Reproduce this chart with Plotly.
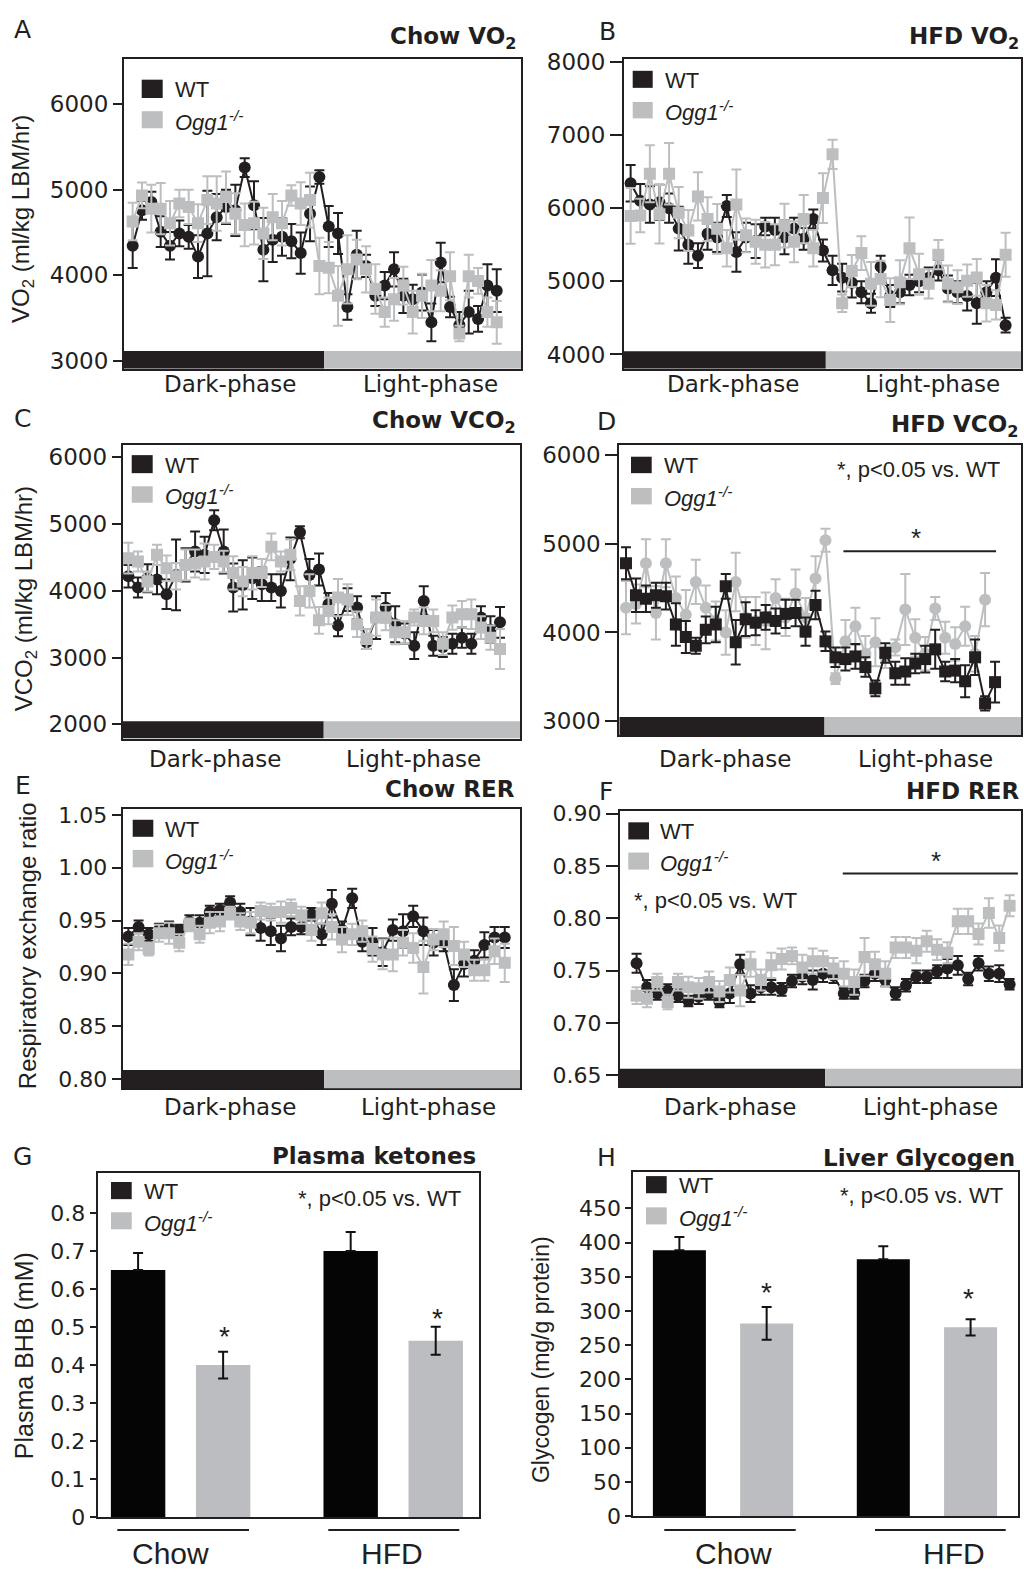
import plotly.graph_objects as go

W, H = 1024, 1582
INK = "#231f20"
WT_C = "#231f20"
KO_C = "#bcbec0"
TICKF = "DejaVu Sans"
SANS = "Liberation Sans, Arial, sans-serif"
BOLD = "DejaVu Sans"

# ---------------- data ----------------
A_WT = [4346, 4760, 4858, 4510, 4346, 4490, 4450, 4220, 4490, 4680, 4800, 4760, 5260, 4820, 4300, 4415, 4450, 4400, 4260, 4720,
        5150, 4570, 4490, 3630, 4240, 4110, 3760, 3880, 4070, 3760, 3720, 3800, 3450, 4150, 3630, 3420, 3570, 3490, 3880, 3820]
A_WT_ERR = [260, 110, 120, 180, 160, 150, 140, 250, 500, 270, 200, 300, 110, 280, 370, 260, 220, 200, 240, 320,
            80, 240, 240, 150, 280, 130, 120, 160, 200, 200, 170, 210, 220, 230, 120, 150, 250, 150, 250, 250]
A_KO = [4630, 4935, 4780, 4780, 4610, 4840, 4800, 4610, 4880, 4840, 4915, 4720, 4590, 4610, 4490, 4680, 4610, 4935, 4840, 4880,
        4110, 4090, 3760, 4070, 4185, 4070, 3840, 3570, 3720, 3880, 3570, 3760, 3880, 3820, 3990, 3320, 3990, 3935, 3570, 3450]
A_KO_ERR = [220, 150, 280, 300, 260, 160, 200, 220, 280, 320, 300, 240, 250, 250, 300, 270, 260, 120, 250, 320,
            330, 300, 350, 400, 230, 270, 290, 170, 250, 220, 250, 260, 300, 240, 280, 90, 250, 150, 170, 250]

B_WT = [6340, 6100, 6050, 6080, 6000, 5720, 5500, 5350, 5650, 5600, 6030, 5400, 5600, 5550, 5750, 5700, 5600, 5720, 5580, 5850,
        5420, 5150, 5050, 4980, 4850, 4700, 5200, 4800, 4850, 4950, 5000, 5050, 5150, 4900, 4850, 4800, 4700, 4850, 5050, 4400]
B_WT_ERR = [250, 230, 250, 240, 200, 300, 260, 170, 220, 200, 150, 270, 200, 230, 120, 170, 230, 150, 150, 130,
            150, 200, 190, 200, 150, 130, 150, 150, 150, 140, 150, 140, 140, 180, 150, 200, 280, 150, 250, 100]
B_KO = [5894, 5900, 6470, 5916, 6470, 5938, 5695, 6160, 5850, 5717, 5451, 6049, 5628, 5540, 5500, 5500, 5761, 5540, 5850, 5451,
        6137, 6735, 4700, 5141, 5385, 4965, 5031, 4743, 4987, 5451, 5097, 4965, 5363, 4965, 4920, 5009, 5053, 4700, 4677, 5363]
B_KO_ERR = [380, 230, 390, 400, 420, 350, 280, 330, 300, 340, 250, 480, 230, 300, 310, 280, 300, 280, 330, 250,
            340, 200, 120, 220, 230, 300, 250, 300, 300, 420, 280, 200, 200, 250, 230, 220, 250, 250, 200, 300]

C_WT = [4220, 4050, 4190, 4170, 3950, 4240, 4390, 4590, 4540, 5060, 4590, 4050, 4090, 4190, 4100, 4050, 4000, 4480, 4880, 4240,
        4320, 3800, 3480, 3870, 3750, 3230, 3600, 3750, 3500, 3360, 3180, 3850, 3180, 3160, 3210, 3300, 3210, 3600, 3420, 3530]
C_WT_ERR = [170, 150, 210, 220, 220, 530, 250, 300, 270, 150, 330, 360, 370, 310, 250, 200, 250, 320, 90, 240,
            240, 170, 160, 170, 170, 100, 320, 220, 270, 150, 200, 220, 150, 150, 150, 150, 150, 170, 200, 230]
C_KO = [4490, 4440, 4140, 4540, 4340, 4220, 4390, 4410, 4440, 4510, 4440, 4270, 4140, 4270, 4270, 4660, 4440, 4540, 3850, 4000,
        3560, 3700, 3900, 3870, 3500, 3280, 3600, 3600, 3380, 3380, 3600, 3550, 3550, 3210, 3600, 3650, 3650, 3450, 3300, 3130]
C_KO_ERR = [230, 150, 150, 150, 190, 200, 230, 210, 270, 180, 160, 250, 220, 250, 210, 200, 150, 230, 220, 250,
            200, 200, 280, 230, 190, 150, 270, 190, 180, 170, 120, 200, 170, 170, 180, 200, 220, 170, 180, 300]

D_WT = [4780, 4420, 4380, 4420, 4410, 4090, 3950, 3850, 4030, 4090, 4520, 3890, 4150, 4110, 4170, 4130, 4210, 4220, 4010, 4310,
        3900, 3720, 3700, 3730, 3610, 3370, 3770, 3540, 3560, 3650, 3700, 3810, 3560, 3570, 3450, 3720, 3200, 3440]
D_WT_ERR = [180, 190, 150, 140, 150, 240, 180, 90, 150, 200, 140, 250, 190, 140, 140, 140, 160, 150, 160, 160,
            110, 110, 130, 140, 110, 90, 110, 130, 150, 110, 150, 220, 110, 130, 180, 200, 80, 230]
D_KO = [4280, 4320, 4780, 4220, 4780, 4390, 4200, 4570, 4280, 4130, 4000, 4570, 4170, 4130, 4130, 4390, 4170, 4440, 4170, 4610,
        5040, 3480, 3900, 4070, 3760, 3890, 3720, 3830, 4260, 3940, 3760, 4270, 3940, 3870, 4070, 3760, 4370]
D_KO_ERR = [300, 220, 270, 300, 270, 240, 280, 250, 250, 220, 250, 330, 230, 270, 320, 210, 210, 270, 220, 250,
            130, 60, 240, 210, 200, 270, 120, 90, 400, 210, 190, 130, 180, 190, 220, 200, 300]

E_WT = [0.935, 0.944, 0.937, 0.941, 0.943, 0.941, 0.949, 0.948, 0.958, 0.960, 0.967, 0.958, 0.949, 0.943, 0.940, 0.933, 0.944, 0.944, 0.956, 0.937,
        0.966, 0.941, 0.971, 0.930, 0.930, 0.920, 0.941, 0.940, 0.954, 0.940, 0.929, 0.929, 0.889, 0.909, 0.912, 0.927, 0.934, 0.934]
E_WT_ERR = [0.008, 0.006, 0.006, 0.006, 0.006, 0.005, 0.006, 0.007, 0.006, 0.006, 0.006, 0.008, 0.013, 0.012, 0.013, 0.012, 0.008, 0.007, 0.006, 0.010,
            0.013, 0.008, 0.009, 0.009, 0.013, 0.013, 0.010, 0.016, 0.010, 0.013, 0.012, 0.008, 0.015, 0.012, 0.010, 0.012, 0.010, 0.010]
E_KO = [0.918, 0.930, 0.923, 0.938, 0.938, 0.929, 0.946, 0.937, 0.948, 0.949, 0.957, 0.949, 0.948, 0.959, 0.958, 0.958, 0.962, 0.955, 0.941, 0.957,
        0.944, 0.932, 0.937, 0.940, 0.923, 0.918, 0.918, 0.929, 0.924, 0.906, 0.932, 0.937, 0.926, 0.918, 0.903, 0.903, 0.921, 0.910]
E_KO_ERR = [0.010, 0.008, 0.006, 0.008, 0.010, 0.008, 0.006, 0.008, 0.010, 0.009, 0.006, 0.008, 0.010, 0.008, 0.008, 0.010, 0.008, 0.008, 0.010, 0.010,
            0.012, 0.012, 0.010, 0.010, 0.012, 0.014, 0.016, 0.012, 0.014, 0.025, 0.010, 0.012, 0.018, 0.012, 0.010, 0.010, 0.012, 0.018]

F_WT = [0.757, 0.734, 0.728, 0.731, 0.726, 0.721, 0.725, 0.728, 0.720, 0.728, 0.756, 0.728, 0.734, 0.734, 0.732, 0.740, 0.744, 0.741, 0.747, 0.745,
        0.728, 0.728, 0.740, 0.747, 0.741, 0.728, 0.736, 0.744, 0.744, 0.749, 0.752, 0.755, 0.742, 0.757, 0.747, 0.747, 0.737]
F_WT_ERR = [0.009, 0.007, 0.006, 0.006, 0.006, 0.005, 0.007, 0.006, 0.005, 0.009, 0.009, 0.008, 0.007, 0.007, 0.006, 0.006, 0.007, 0.009, 0.008, 0.007,
            0.005, 0.005, 0.006, 0.007, 0.006, 0.006, 0.006, 0.006, 0.006, 0.006, 0.009, 0.009, 0.006, 0.007, 0.007, 0.008, 0.005]
F_KO = [0.726, 0.723, 0.739, 0.720, 0.739, 0.734, 0.733, 0.739, 0.730, 0.741, 0.731, 0.756, 0.741, 0.755, 0.761, 0.764, 0.753, 0.759, 0.759, 0.752,
        0.747, 0.739, 0.763, 0.756, 0.747, 0.772, 0.772, 0.769, 0.778, 0.770, 0.767, 0.797, 0.797, 0.785, 0.805, 0.781, 0.812]
F_KO_ERR = [0.008, 0.008, 0.008, 0.007, 0.008, 0.010, 0.010, 0.010, 0.010, 0.012, 0.015, 0.012, 0.010, 0.012, 0.010, 0.008, 0.012, 0.012, 0.010, 0.010,
            0.012, 0.012, 0.018, 0.012, 0.012, 0.010, 0.010, 0.012, 0.010, 0.010, 0.010, 0.012, 0.012, 0.010, 0.014, 0.012, 0.010]

CATS = ["Chow", "HFD"]
G_WT = [0.65, 0.70]
G_WT_ERR = [0.045, 0.05]
G_KO = [0.40, 0.464]
G_KO_ERR = [0.035, 0.037]
H_WT = [388.7, 375.7]
H_WT_ERR = [19.5, 19.0]
H_KO = [281.8, 276.0]
H_KO_ERR = [24.0, 12.0]

A_TICKS = [3000, 4000, 5000, 6000]
B_TICKS = [4000, 5000, 6000, 7000, 8000]
C_TICKS = [2000, 3000, 4000, 5000, 6000]
D_TICKS = [3000, 4000, 5000, 6000]
E_TICKS = [0.80, 0.85, 0.90, 0.95, 1.00, 1.05]
F_TICKS = [0.65, 0.70, 0.75, 0.80, 0.85, 0.90]
G_TICKS = [0, 0.1, 0.2, 0.3, 0.4, 0.5, 0.6, 0.7, 0.8]
G_TICKTEXT = ["0", "0.1", "0.2", "0.3", "0.4", "0.5", "0.6", "0.7", "0.8"]
H_TICKS = [0, 50, 100, 150, 200, 250, 300, 350, 400, 450]

WT_LABEL = "WT"
KO_LABEL = "<i>Ogg1<sup>-/-</sup></i>"
SIG_LABEL = "*, p<0.05 vs. WT"

# ---------------- helpers ----------------
def X(p):
    return p / W


def Y(p):
    return 1 - p / H


def names(n):
    s = "" if n == 1 else str(n)
    return "xaxis" + s, "yaxis" + s, "x" + s, "y" + s


fig = go.Figure()
lay = {}
shapes = []
ann = []


def text(t, x, y, size, fam=SANS, xa="center", ya="middle", angle=0, color=INK):
    ann.append(dict(text=t, x=X(x), y=Y(y), xref="paper", yref="paper", xanchor=xa, yanchor=ya,
                    showarrow=False, textangle=angle, font=dict(size=size, family=fam, color=color)))


def legend(sq, ywt, yko, tx):
    for (y0, y1), c, lab in [(ywt, WT_C, WT_LABEL), (yko, KO_C, KO_LABEL)]:
        shapes.append(dict(type="rect", xref="paper", yref="paper", x0=X(sq[0]), x1=X(sq[1]),
                           y0=Y(y1), y1=Y(y0), fillcolor=c, line=dict(width=0)))
        text(lab, tx, (y0 + y1) / 2 + 1, 22, SANS, xa="left")


time_panels = [
    dict(n=1, wt=A_WT, wte=A_WT_ERR, ko=A_KO, koe=A_KO_ERR, ws="circle", ks="square",
         box=(124, 521, 50, 364), yr=(2908, 6527), xr=(-0.93, 41.6), split=20.5, bar=3115,
         ticks=A_TICKS, tl=9, fmt=None, fs=23, ko_top=True),
    dict(n=2, wt=B_WT, wte=B_WT_ERR, ko=B_KO, koe=B_KO_ERR, ws="circle", ks="square",
         box=(624, 1021, 50, 364), yr=(3805, 8035), xr=(-0.69, 40.6), split=20.3, bar=4044,
         ticks=B_TICKS, tl=12, fmt=None, fs=23, ko_top=True),
    dict(n=3, wt=C_WT, wte=C_WT_ERR, ko=C_KO, koe=C_KO_ERR, ws="circle", ks="square",
         box=(122.7, 520, 441.7, 739.3), yr=(1788, 6182), xr=(-0.6, 41.1), split=20.5, bar=2049,
         ticks=C_TICKS, tl=9, fmt=None, fs=23, ko_top=True),
    dict(n=4, wt=D_WT, wte=D_WT_ERR, ko=D_KO, koe=D_KO_ERR, ws="square", ks="circle",
         box=(619.3, 1021, 441.7, 735.7), yr=(2844, 6111), xr=(-0.67, 39.6), split=19.9, bar=3048,
         ticks=D_TICKS, tl=12, fmt=None, fs=23, ko_top=False),
    dict(n=5, wt=E_WT, wte=E_WT_ERR, ko=E_KO, koe=E_KO_ERR, ws="circle", ks="square",
         box=(122.7, 520, 811, 1094.3), yr=(0.7913, 1.0553), xr=(-0.56, 38.5), split=19.25, bar=0.8087,
         ticks=E_TICKS, tl=9, fmt=".2f", fs=22, ko_top=True),
    dict(n=6, wt=F_WT, wte=F_WT_ERR, ko=F_KO, koe=F_KO_ERR, ws="circle", ks="square",
         box=(620, 1021, 813.3, 1092.3), yr=(0.6393, 0.902), xr=(-1.6, 37.1), split=18.2, bar=0.6563,
         ticks=F_TICKS, tl=12, fmt=".2f", fs=22, ko_top=True),
]


def series(vals, errs, color, sym, xa, ya):
    return go.Scatter(
        x=list(range(len(vals))), y=vals, mode="lines+markers", xaxis=xa, yaxis=ya,
        line=dict(color=color, width=2),
        marker=dict(symbol=sym, size=12 if sym == "circle" else 12, color=color, line=dict(width=0)),
        error_y=dict(type="data", array=errs, color=color, thickness=2, width=5),
        showlegend=False, hoverinfo="skip")


for p in time_panels:
    xk, yk, xa, ya = names(p["n"])
    l, r, t, b = p["box"]
    wt = series(p["wt"], p["wte"], WT_C, p["ws"], xa, ya)
    ko = series(p["ko"], p["koe"], KO_C, p["ks"], xa, ya)
    for tr in ([wt, ko] if p["ko_top"] else [ko, wt]):
        fig.add_trace(tr)
    lay[xk] = dict(domain=[X(l), X(r)], range=list(p["xr"]), anchor=ya, showgrid=False, zeroline=False,
                   showticklabels=False, ticks="", showline=True, mirror=True, linecolor=INK, linewidth=2)
    lay[yk] = dict(domain=[Y(b), Y(t)], range=list(p["yr"]), anchor=xa, showgrid=False, zeroline=False,
                   tickvals=p["ticks"], tickformat=p["fmt"], ticks="outside", ticklen=p["tl"], tickwidth=2,
                   tickcolor=INK, showline=True, mirror=True, linecolor=INK, linewidth=2,
                   tickfont=dict(family=TICKF, size=p["fs"], color=INK))
    shapes.append(dict(type="rect", xref=xa, yref=ya, x0=p["xr"][0], x1=p["split"], y0=p["yr"][0], y1=p["bar"],
                       fillcolor=WT_C, line=dict(width=0), layer="above"))
    shapes.append(dict(type="rect", xref=xa, yref=ya, x0=p["split"], x1=p["xr"][1], y0=p["yr"][0], y1=p["bar"],
                       fillcolor=KO_C, line=dict(width=0), layer="above"))

# significance bars (time-series panels)
SIG_D = dict(x0=21.8, x1=37.1, y=4915, sx=29.1, sy=5130)
SIG_F = dict(x0=19.9, x1=36.8, y=0.8428, sx=28.9, sy=0.860)
for n, s in [(4, SIG_D), (6, SIG_F)]:
    _, _, xa, ya = names(n)
    shapes.append(dict(type="line", xref=xa, yref=ya, x0=s["x0"], x1=s["x1"], y0=s["y"], y1=s["y"],
                       line=dict(color=INK, width=2)))
    ann.append(dict(text="*", x=s["sx"], y=s["sy"], xref=xa, yref=ya, showarrow=False, yshift=-6,
                    font=dict(size=26, family=SANS, color=INK)))

# ---------------- bar panels ----------------
bar_panels = [
    dict(n=7, wt=G_WT, wte=G_WT_ERR, ko=G_KO, koe=G_KO_ERR, box=(97.7, 479.3, 1180, 1529.3),
         yr=(0, 0.906), xr=(-0.39, 1.405), off=0.2, w=0.256, ticks=G_TICKS, tt=G_TICKTEXT),
    dict(n=8, wt=H_WT, wte=H_WT_ERR, ko=H_KO, koe=H_KO_ERR, box=(633.3, 1018.3, 1179.3, 1528.3),
         yr=(0, 503), xr=(-0.44, 1.448), off=0.214, w=0.26, ticks=H_TICKS, tt=None),
]
for p in bar_panels:
    xk, yk, xa, ya = names(p["n"])
    l, r, t, b = p["box"]
    fig.add_trace(go.Bar(x=CATS, y=p["wt"], xaxis=xa, yaxis=ya, marker=dict(color="#050505", line=dict(width=0)),
                         offset=-p["off"] - p["w"] / 2, width=p["w"],
                         error_y=dict(type="data", array=p["wte"], arrayminus=[0] * len(p["wte"]),
                                      color="#111111", thickness=2, width=5),
                         showlegend=False, hoverinfo="skip"))
    fig.add_trace(go.Bar(x=CATS, y=p["ko"], xaxis=xa, yaxis=ya, marker=dict(color="#bcbdc0", line=dict(width=0)),
                         offset=p["off"] - p["w"] / 2, width=p["w"],
                         error_y=dict(type="data", array=p["koe"], color="#111111", thickness=2, width=5),
                         showlegend=False, hoverinfo="skip"))
    lay[xk] = dict(domain=[X(l), X(r)], range=list(p["xr"]), anchor=ya, type="category", showgrid=False,
                   zeroline=False, showticklabels=False, ticks="", showline=True, mirror=True,
                   linecolor=INK, linewidth=2)
    yd = dict(domain=[Y(b), Y(t)], range=list(p["yr"]), anchor=xa, showgrid=False, zeroline=False,
              tickvals=p["ticks"], ticks="outside", ticklen=6, tickwidth=2, tickcolor=INK,
              showline=True, mirror=True, linecolor=INK, linewidth=2,
              tickfont=dict(family=TICKF, size=22, color=INK))
    if p["tt"]:
        yd["ticktext"] = p["tt"]
    lay[yk] = yd

# group underlines and labels
for (x0, x1), lab_x, lab in [((117.3, 249), 170, CATS[0]), ((328.3, 459.3), 392, CATS[1]),
                             ((664.3, 795.7), 733, CATS[0]), ((875, 1005.7), 954, CATS[1])]:
    shapes.append(dict(type="line", xref="paper", yref="paper", x0=X(x0), x1=X(x1), y0=Y(1542.3), y1=Y(1542.3),
                       line=dict(color=INK, width=2)))
    text(lab, lab_x, 1566, 30, SANS)

# stars above knockout bars
for sx, sy in [(224, 1340), (437.3, 1322), (766.7, 1295), (968.3, 1302)]:
    text("*", sx, sy + 6, 28, SANS)

# ---------------- texts ----------------
for lab, x, y in [("A", 22, 20), ("B", 607, 22), ("C", 22, 415), ("D", 606, 418),
                  ("E", 23, 787), ("F", 606, 793), ("G", 22, 1163), ("H", 606, 1164)]:
    text(lab, x, y, 25, TICKF)

for t, x, y in [("Chow VO<sub>2</sub>", 518, 28), ("HFD VO<sub>2</sub>", 1021, 28),
                ("Chow VCO<sub>2</sub>", 518, 418), ("HFD VCO<sub>2</sub>", 1021, 422),
                ("Chow RER", 517, 790), ("HFD RER", 1021, 793),
                ("Plasma ketones", 478, 1163), ("Liver Glycogen", 1017, 1165)]:
    text("<b>" + t + "</b>", x, y, 23, BOLD, xa="right")

for y, pairs in [(380, [(230, 430), (733, 932)]), (760, [(215, 413), (725, 925)]), (1113, [(230, 428), (730, 930)])]:
    for dx, lx in pairs:
        text("Dark-phase", dx, y, 23, TICKF)
        text("Light-phase", lx, y, 23, TICKF)

text("VO<sub>2</sub> (ml/kg LBM/hr)", 23, 212, 24, SANS, angle=-90)
text("VCO<sub>2</sub> (ml/kg LBM/hr)", 25, 598, 24, SANS, angle=-90)
text("Respiratory exchange ratio", 27, 950, 24, SANS, angle=-90)
text("Plasma BHB (mM)", 24, 1366, 25, SANS, angle=-90)
text("Glycogen (mg/g protein)", 541, 1370, 23, SANS, angle=-90)

legend((141.7, 162.7), (70.7, 89.3), (102.7, 120), 173)
legend((632.7, 652.7), (61.7, 79), (93.3, 110), 663.3)
legend((131.7, 152.7), (451.7, 470), (483.3, 500), 163.3)
legend((631, 651.7), (453.3, 470), (485, 501.7), 661.7)
legend((132.7, 153.3), (821.7, 839), (852.3, 870), 163.3)
legend((628.3, 649), (824.3, 841.7), (855, 872.3), 658.3)
legend((111, 131.7), (1189.3, 1206.7), (1220, 1237.3), 141.7)
legend((646, 666.7), (1183.3, 1200.7), (1215, 1232.3), 676.7)

text(SIG_LABEL, 1002, 466, 22, SANS, xa="right")
text(SIG_LABEL, 632, 904, 22, SANS, xa="left")
text(SIG_LABEL, 463, 1206, 22, SANS, xa="right")
text(SIG_LABEL, 1005, 1203, 22, SANS, xa="right")

fig.update_layout(width=W, height=H, margin=dict(l=0, r=0, t=0, b=0), paper_bgcolor="white",
                  plot_bgcolor="white", barmode="overlay", showlegend=False,
                  shapes=shapes, annotations=ann, **lay)
fig.write_html("out.html", config=dict(displayModeBar=False),
               post_script="document.body.style.margin='0';document.body.style.overflow='hidden';")
